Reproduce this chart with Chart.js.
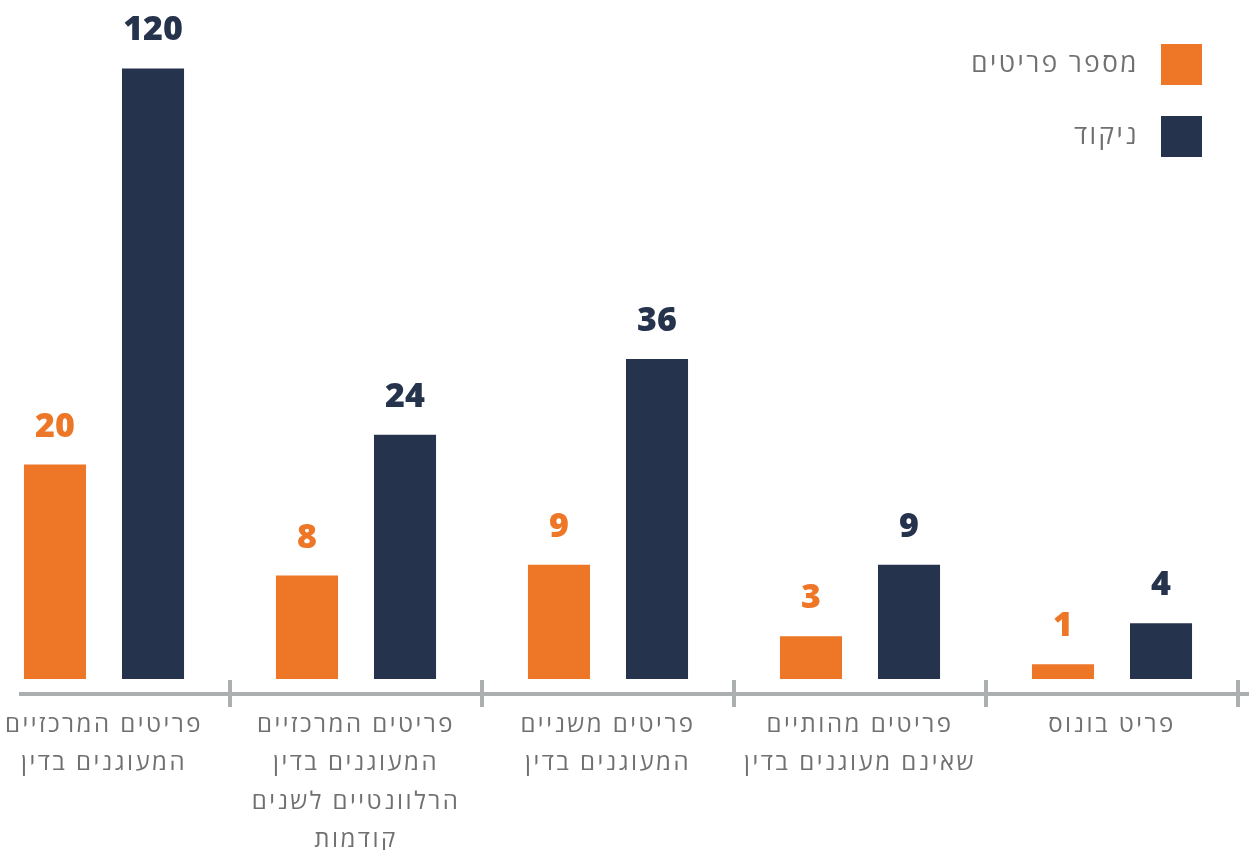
<!DOCTYPE html>
<html lang="he">
<head>
<meta charset="utf-8">
<title>פריטים וניקוד</title>
<script src="https://cdn.jsdelivr.net/npm/chart.js@4.4.1/dist/chart.umd.min.js"></script>
<style>
  html, body { margin: 0; padding: 0; background: #fff; }
  /* the first group runs off the left edge, so the canvas is wider and shifted */
  #wrap { width: 1249px; height: 850px; overflow: hidden; }
  #scoreChart { display: block; margin-left: -22px; }
</style>
</head>
<body>
<div id="wrap"><canvas id="scoreChart" width="1271" height="850"></canvas></div>
<script>
/* ─── DATA ────────────────────────────────────────────────── */
const categories = [
  ['פריטים המרכזיים', 'המעוגנים בדין'],
  ['פריטים המרכזיים', 'המעוגנים בדין', 'הרלוונטיים לשנים', 'קודמות'],
  ['פריטים משניים', 'המעוגנים בדין'],
  ['פריטים מהותיים', 'שאינם מעוגנים בדין'],
  ['פריט בונוס'],
];
const itemCounts  = [20, 8, 9, 3, 1];
const scores      = [120, 24, 36, 9, 4];
const seriesNames = ['מספר פריטים', 'ניקוד'];

/* ─── COLOURS / FONTS ─────────────────────────────────────── */
const ORANGE   = '#ed7627';
const NAVY     = '#26334d';
const AXIS     = '#abafaf';
const TEXT     = '#707070';
const NUM_FONT = '"Open Sans", sans-serif';
const TXT_FONT = '"Open Sans", sans-serif';
const TRACKING = '2.5px';   // Hebrew labels are set wide

/* ─── SOFT-LOG SCALE ──────────────────────────────────────── */
// linear near zero, compressing large values: sign(v) * ln(1 + |v| / k)
const SOFT_K = 21;
const soft = v => Math.sign(v) * Math.log1p(Math.abs(v) / SOFT_K);

class SoftLogScale extends Chart.LinearScale {
  static id = 'softlog';
  static defaults = Chart.LinearScale.defaults;

  getPixelForValue(value) {
    const lo = soft(this.min), hi = soft(this.max);
    return this.getPixelForDecimal((soft(value) - lo) / (hi - lo));
  }

  getValueForPixel(pixel) {
    const lo = soft(this.min), hi = soft(this.max);
    const s  = lo + this.getDecimalForPixel(pixel) * (hi - lo);
    return Math.sign(s) * SOFT_K * Math.expm1(Math.abs(s));
  }
}
Chart.register(SoftLogScale);

/* ─── PLUGINS ─────────────────────────────────────────────── */
// letter spacing for the Hebrew text (canvas state, reset when the canvas is sized)
const tracking = {
  id: 'tracking',
  beforeUpdate(chart) { chart.ctx.letterSpacing = TRACKING; },
  beforeDraw(chart)   { chart.ctx.letterSpacing = TRACKING; },
};

// base rule with separators between the groups
const axisRule = {
  id: 'axisRule',
  beforeDatasetsDraw(chart) {
    const { ctx, chartArea, scales: { x } } = chart;
    const y    = chartArea.bottom;
    const step = x.getPixelForValue(1) - x.getPixelForValue(0);
    ctx.save();
    ctx.strokeStyle = AXIS;
    ctx.lineWidth   = 4;
    ctx.beginPath();
    ctx.moveTo(41, y);
    ctx.lineTo(chart.width, y);
    for (let i = 0; i < categories.length; i++) {
      const px = x.getPixelForValue(i) + step / 2;
      ctx.moveTo(px, y - 14);
      ctx.lineTo(px, y + 13);
    }
    ctx.stroke();
    ctx.restore();
  },
};

// value above each bar
const barValues = {
  id: 'barValues',
  afterDatasetsDraw(chart) {
    const { ctx } = chart;
    ctx.save();
    ctx.letterSpacing = '0px';
    ctx.font         = '800 34px ' + NUM_FONT;
    ctx.textAlign    = 'center';
    ctx.textBaseline = 'alphabetic';
    chart.data.datasets.forEach((ds, di) => {
      ctx.fillStyle = ds.backgroundColor;
      chart.getDatasetMeta(di).data.forEach((bar, i) => {
        ctx.fillText(String(ds.data[i]), bar.x, bar.y - 28);
      });
    });
    ctx.restore();
  },
};

// stacked legend in the top right corner, swatch on the right
const cornerLegend = {
  id: 'cornerLegend',
  afterDraw(chart) {
    const { ctx } = chart;
    const box   = 41;
    const right = chart.width - 47;
    ctx.save();
    ctx.font         = '26px ' + TXT_FONT;
    ctx.textAlign    = 'right';
    ctx.textBaseline = 'middle';
    chart.data.datasets.forEach((ds, i) => {
      const top = 44 + i * 72;
      ctx.fillStyle = ds.backgroundColor;
      ctx.fillRect(right - box, top, box, box);
      ctx.fillStyle = TEXT;
      ctx.fillText(ds.label, right - box - 22, top + box / 2);
    });
    ctx.restore();
  },
};

/* ─── CHART ───────────────────────────────────────────────── */
new Chart(document.getElementById('scoreChart'), {
  type: 'bar',
  data: {
    labels: categories,
    datasets: [
      { label: seriesNames[0], data: itemCounts, backgroundColor: ORANGE },
      { label: seriesNames[1], data: scores,     backgroundColor: NAVY },
    ],
  },
  options: {
    responsive: false,
    animation: false,
    events: [],
    categoryPercentage: 0.778,
    barPercentage: 0.633,
    layout: { padding: { left: 0, right: 11, top: 20, bottom: 0 } },
    plugins: {
      legend: { display: false },
      tooltip: { enabled: false },
    },
    scales: {
      x: {
        grid:   { display: false, drawTicks: false },
        border: { display: false },
        ticks: {
          color: TEXT,
          font: { family: TXT_FONT, size: 24, lineHeight: 1.6 },
          padding: 12,
          maxRotation: 0,
          autoSkip: false,
        },
        // fixed band for the group names; the tallest one runs to the bottom edge
        afterFit: s => { s.height = 156; },
      },
      y: {
        type: 'softlog',
        display: false,
        min: -1.0,
        max: 143,
      },
    },
  },
  plugins: [tracking, axisRule, barValues, cornerLegend],
});
</script>
</body>
</html>
